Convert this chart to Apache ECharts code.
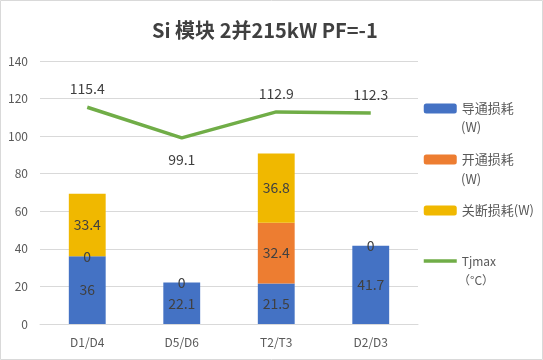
<!DOCTYPE html>
<html><head><meta charset="utf-8">
<script src="https://cdn.jsdelivr.net/npm/echarts@6/dist/echarts.min.js"></script>
<style>html,body{margin:0;padding:0;background:#fff}#c{width:543px;height:360px}</style>
</head><body><div id="c"></div>
<script>
const categories = ['D1/D4','D5/D6','T2/T3','D2/D3'];
const conduction = [36, 22.1, 21.5, 41.7];
const turnOn = [0, 0, 32.4, 0];
const turnOff = [33.4, null, 36.8, null];
const tjmax = [115.4, 99.1, 112.9, 112.3];
const yTicks = {min: 0, max: 140, interval: 20};

const font = '"Microsoft YaHei","Noto Sans CJK SC","DejaVu Sans",sans-serif';
const chart = echarts.init(document.getElementById('c'));
const barLabel = {show: true, position: 'inside', color: '#404040', fontSize: 14, fontFamily: font};
chart.setOption({
  animation: false,
  title: {text: 'Si 模块 2并215kW PF=-1', left: 147, top: 15,
    textStyle: {fontSize: 20, fontWeight: 'bold', color: '#404040', fontFamily: font}},
  grid: {left: 40, right: 125, top: 61, bottom: 36},
  legend: {orient: 'vertical', left: 422, top: 102, padding: 0, itemWidth: 33, itemHeight: 10, itemGap: 38,
    textStyle: {color: '#595959', fontSize: 13, fontFamily: font},
    data: ['导通损耗', '开通损耗', '关断损耗(W)',
      {name: 'Tjmax', textStyle: {fontSize: 12}, lineStyle: {width: 3.5, color: '#70ad47'}}]},
  xAxis: {type: 'category', data: categories,
    axisLine: {lineStyle: {color: '#d9d9d9'}}, axisTick: {show: false},
    axisLabel: {color: '#595959', fontSize: 12, fontFamily: font, margin: 12}},
  yAxis: {type: 'value', min: yTicks.min, max: yTicks.max, interval: yTicks.interval,
    axisLine: {show: false}, axisTick: {show: false},
    splitLine: {lineStyle: {color: '#d9d9d9'}},
    axisLabel: {color: '#595959', fontSize: 12, fontFamily: font, margin: 12}},
  series: [
    {name: '导通损耗', type: 'bar', stack: 's', barWidth: '39%', data: conduction,
      itemStyle: {color: '#4472c4'}, label: barLabel},
    {name: '开通损耗', type: 'bar', stack: 's', data: turnOn,
      itemStyle: {color: '#ed7d31'}, label: barLabel},
    {name: '关断损耗(W)', type: 'bar', stack: 's', data: turnOff,
      itemStyle: {color: '#f0b800'}, label: barLabel},
    {name: 'Tjmax', type: 'line', symbol: 'circle', symbolSize: 1, showSymbol: true, z: 5,
      data: tjmax.map((v, i) => i === 1
        ? {value: v, label: {position: 'bottom', distance: 14}}
        : {value: v}),
      lineStyle: {color: '#70ad47', width: 3.5}, itemStyle: {color: 'rgba(0,0,0,0)', borderWidth: 0},
      label: {show: true, position: 'top', distance: 11, color: '#404040', fontSize: 14, fontFamily: font}}
  ],
  graphic: [
    {type: 'rect', shape: {x: 0.5, y: 0.5, width: 542, height: 359}, style: {fill: 'none', stroke: '#d9d9d9', lineWidth: 1}, silent: true},
    {type: 'text', left: 461, top: 121, style: {text: '(W)', fill: '#595959', fontSize: 13, fontFamily: font}},
    {type: 'text', left: 461, top: 173, style: {text: '(W)', fill: '#595959', fontSize: 13, fontFamily: font}},
    {type: 'text', left: 458, top: 274, style: {text: '（°C）', fill: '#595959', fontSize: 12, fontFamily: font}}
  ]
});
</script></body></html>
